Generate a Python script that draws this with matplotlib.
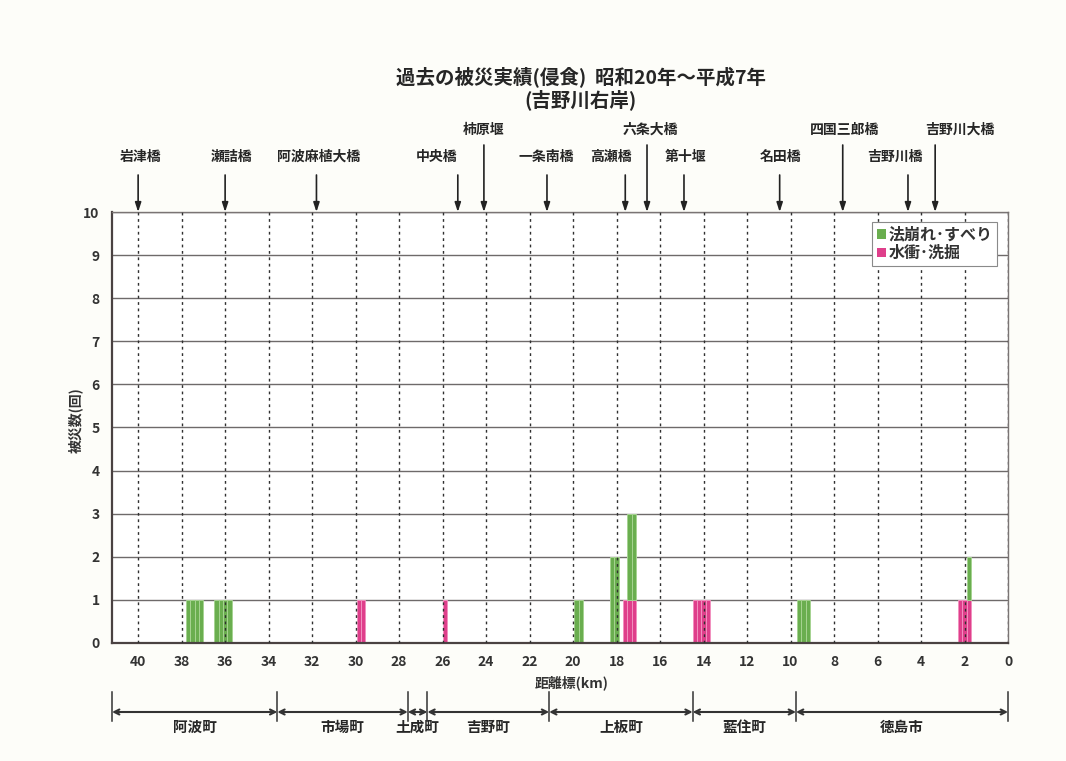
import matplotlib
matplotlib.use("Agg")
import matplotlib.pyplot as plt
from matplotlib import transforms
from matplotlib.lines import Line2D
from matplotlib.patches import Patch

plt.rcParams['font.family'] = ['Noto Sans CJK JP', 'DejaVu Sans']
plt.rcParams['font.weight'] = 'bold'

# 距離標(km) ごとの被災回数（水衝・洗掘が下段、法崩れ・すべりが上段）
distance_km = [37.7, 37.5, 37.3, 37.1, 36.4, 36.2, 36.0, 35.8,
               29.85, 29.65, 25.9, 19.85, 19.65, 18.2, 18.0,
               17.6, 17.4, 17.2, 14.4, 14.2, 14.0, 13.8,
               9.6, 9.4, 9.2, 2.2, 2.0, 1.8]
slope_failure = [1, 1, 1, 1, 1, 1, 1, 1,
                 0, 0, 0, 1, 1, 2, 2,
                 0, 2, 2, 0, 0, 0, 0,
                 1, 1, 1, 0, 0, 1]
scour = [0, 0, 0, 0, 0, 0, 0, 0,
         1, 1, 1, 0, 0, 0, 0,
         1, 1, 1, 1, 1, 1, 1,
         0, 0, 0, 1, 1, 1]
series_labels = ['法崩れ･すべり', '水衝･洗掘']

x_ticks = list(range(40, -1, -2))
y_ticks = list(range(0, 11))

# 橋・堰の位置（km）と表示段（0: 下段, 1: 上段）
bridges = ['岩津橋', '瀬詰橋', '阿波麻植大橋', '中央橋', '柿原堰', '一条南橋',
           '高瀬橋', '六条大橋', '第十堰', '名田橋', '四国三郎橋', '吉野川橋',
           '吉野川大橋']
bridge_km = [40.0, 36.0, 31.8, 25.3, 24.1, 21.2, 17.6, 16.6, 14.9, 10.5,
             7.6, 4.6, 3.35]
bridge_row = [0, 0, 0, 0, 1, 0, 0, 1, 0, 0, 1, 0, 1]
label_shift_px = [2, 6, 2, -21, 0, -1, -14, 3, 2, 1, 2, -13, 25]

# 市町村の区間境界（km）
towns = ['阿波町', '市場町', '土成町', '吉野町', '上板町', '藍住町', '徳島市']
town_bounds = [41.2, 33.6, 27.6, 26.7, 21.1, 14.5, 9.75, 0.0]

GREEN = '#6aae4f'
GREEN_EDGE = '#a6d392'
PINK = '#df3f8b'
PINK_EDGE = '#f291bf'
INK = '#262626'

fig = plt.figure(figsize=(10.66, 7.61), dpi=100, facecolor='#fdfdf9')
ax = fig.add_axes([0.1051, 0.1551, 0.8405, 0.5663])
ax.set_facecolor('white')

# 積み上げ棒
pk = [(x, v) for x, v in zip(distance_km, scour) if v > 0]
ax.bar([p[0] for p in pk], [p[1] for p in pk], width=0.2, color=PINK,
       edgecolor=PINK_EDGE, linewidth=0.7, zorder=2)
gr = [(x, v, b) for x, v, b in zip(distance_km, slope_failure, scour) if v > 0]
ax.bar([g[0] for g in gr], [g[1] for g in gr], bottom=[g[2] for g in gr],
       width=0.2, color=GREEN, edgecolor=GREEN_EDGE, linewidth=0.7, zorder=2)

ax.set_xlim(41.2, 0)
ax.set_ylim(0, 10)
ax.set_xticks(x_ticks)
ax.set_yticks(y_ticks)
ax.tick_params(length=0, pad=9, labelsize=10, labelcolor='#333333')

ax.yaxis.grid(True, color='#6e6a6a', linewidth=1.0)
ax.xaxis.grid(True, color='#303030', linewidth=1.0, linestyle=(0, (2, 2.6)))
ax.yaxis.set_zorder(0.5)
ax.xaxis.set_zorder(3)

for side in ('left', 'bottom'):
    ax.spines[side].set_color('#4a4242')
    ax.spines[side].set_linewidth(1.6)
for side in ('top', 'right'):
    ax.spines[side].set_color('#7a7474')
    ax.spines[side].set_linewidth(1.0)

# 凡例
handles = [Patch(facecolor=GREEN, label=series_labels[0]),
           Patch(facecolor=PINK, label=series_labels[1])]
leg = ax.legend(handles=handles, loc='upper right', bbox_to_anchor=(0.988, 0.977),
                frameon=True, fancybox=False, edgecolor='#8a8a8a', framealpha=1,
                fontsize=11.5, handlelength=0.55, handleheight=0.55,
                handletextpad=0.15, borderpad=0.3, labelspacing=0.15,
                borderaxespad=0)
leg.get_frame().set_linewidth(0.8)
for t in leg.get_texts():
    t.set_color('#333333')

blend = transforms.blended_transform_factory(ax.transData, fig.transFigure)

# タイトル
fig.text(581 / 1066, 1 - 78 / 761, '過去の被災実績(侵食)  昭和20年～平成7年',
         ha='center', va='center', fontsize=14, weight='bold', color=INK)
fig.text(581 / 1066, 1 - 100 / 761, '(吉野川右岸)',
         ha='center', va='center', fontsize=14, weight='bold', color=INK)

# 橋・堰の矢印と名称
text_y = {0: 1 - 157 / 761, 1: 1 - 130 / 761}
arrow_y = {0: 1 - 175 / 761, 1: 1 - 145 / 761}
for name, km, row, shift in zip(bridges, bridge_km, bridge_row, label_shift_px):
    ax.annotate('', xy=(km, 10), xycoords='data',
                xytext=(km, arrow_y[row]), textcoords=blend,
                arrowprops=dict(arrowstyle='-|>,head_length=0.55,head_width=0.18',
                                color='#222222', lw=1.2, shrinkA=0, shrinkB=0),
                annotation_clip=False)
    tr = transforms.offset_copy(blend, fig=fig, x=shift, y=0, units='dots')
    ax.text(km, text_y[row], name, transform=tr, ha='center', va='center',
            fontsize=10, weight='bold', color=INK, clip_on=False)

# 軸ラベル
fig.text(572 / 1066, 1 - 683 / 761, '距離標(km)', ha='center', va='center',
         fontsize=10, weight='bold', color='#333333')
fig.text(76 / 1066, 1 - 420 / 761, '被災数(回)', ha='center', va='center',
         rotation=90, fontsize=10, weight='bold', color='#333333')

# 市町村区間
line_top, line_bot = 1 - 692 / 761, 1 - 721 / 761
bracket_y = 1 - 712 / 761
name_y = 1 - 727 / 761
for b in town_bounds:
    fig.add_artist(Line2D([b, b], [line_bot, line_top], transform=blend,
                          color='#333333', lw=1.1))
for name, b0, b1 in zip(towns, town_bounds[:-1], town_bounds[1:]):
    ax.annotate('', xy=(b1, bracket_y), xycoords=blend,
                xytext=(b0, bracket_y), textcoords=blend,
                arrowprops=dict(arrowstyle='<->', color='#333333', lw=1.5,
                                shrinkA=0, shrinkB=0, mutation_scale=9),
                annotation_clip=False)
    ax.text((b0 + b1) / 2, name_y, name, transform=blend, ha='center',
            va='center', fontsize=10.5, weight='bold', color=INK, clip_on=False)

fig.savefig('out.png', dpi=100, facecolor=fig.get_facecolor())
